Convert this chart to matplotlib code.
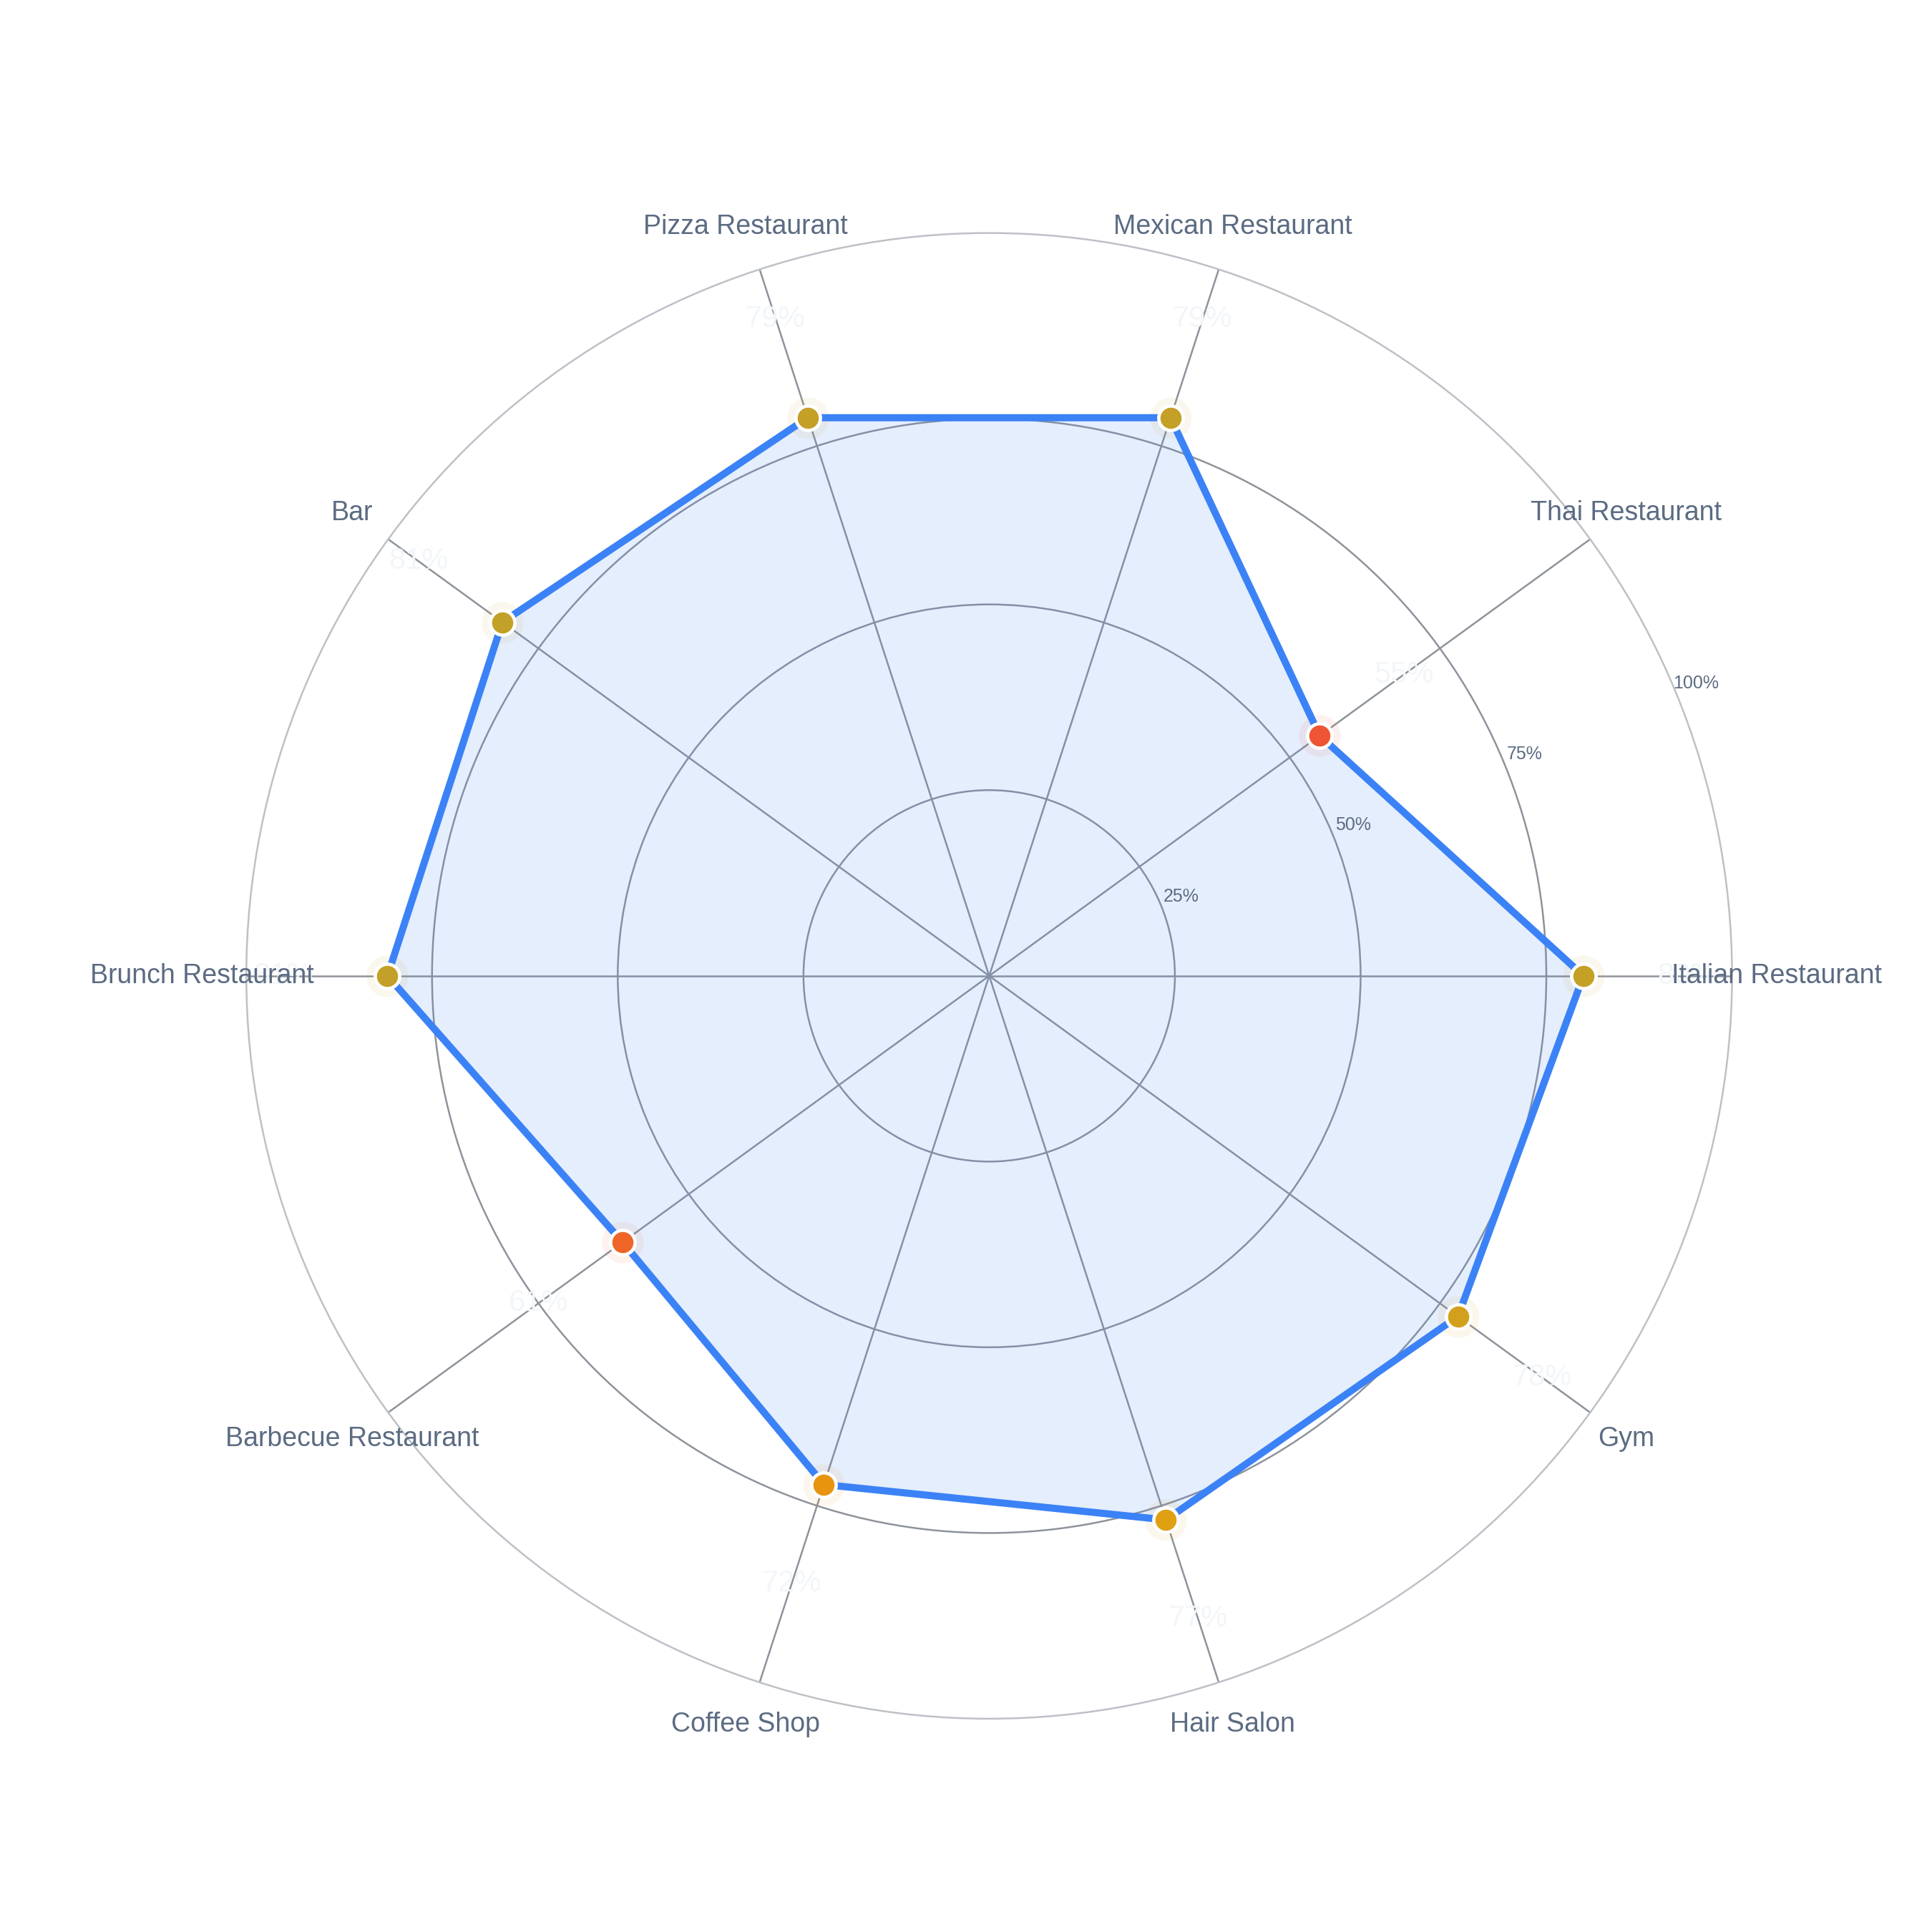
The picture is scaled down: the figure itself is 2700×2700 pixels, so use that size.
import numpy as np
import matplotlib
matplotlib.use("Agg")
import matplotlib.pyplot as plt
from matplotlib.colors import LinearSegmentedColormap

plt.rcParams["font.family"] = ["Liberation Sans", "DejaVu Sans"]

# ---- data ----
categories = ["Italian Restaurant", "Thai Restaurant", "Mexican Restaurant",
              "Pizza Restaurant", "Bar", "Brunch Restaurant",
              "Barbecue Restaurant", "Coffee Shop", "Hair Salon", "Gym"]
values = [80, 55, 79, 79, 81, 81, 61, 72, 77, 78]
rticks = [25, 50, 75, 100]
rtick_labels = ["25%", "50%", "75%", "100%"]

# ---- look ----
LINE_BLUE = "#3B82F6"
TEXT_COL = "#5B6B82"
GRID_COL = "#8E939B"
OUTER_COL = "#BDC1C7"
VALUE_COL = "#F3F6F9"

# marker colour by value (red -> amber -> gold)
_val_nodes = [50, 55, 65, 72, 77, 79, 85]
_col_nodes = ["#EF4C3A", "#EE5533", "#F0701F", "#E8940F", "#E0A012", "#C4A027", "#C2A028"]
_lo, _hi = _val_nodes[0], _val_nodes[-1]
cmap = LinearSegmentedColormap.from_list(
    "score", [((v - _lo) / (_hi - _lo), c) for v, c in zip(_val_nodes, _col_nodes)])


def score_color(v):
    return cmap((v - _lo) / (_hi - _lo))


n = len(categories)
theta = np.arange(n) * 2 * np.pi / n
theta_closed = np.append(theta, theta[0])
vals_closed = np.append(values, values[0])

fig = plt.figure(figsize=(9, 9), dpi=300)
fig.patch.set_facecolor("white")
ax = fig.add_axes([0.1275, 0.1104, 0.769, 0.769], projection="polar")
ax.set_theta_zero_location("E")
ax.set_theta_direction(1)
ax.set_ylim(0, 100)

# grid
ax.set_xticks(theta)
ax.set_xticklabels([])
ax.set_yticks(rticks[:-1])
ax.set_yticklabels([])
ax.xaxis.grid(True, color=GRID_COL, linewidth=0.6)
ax.yaxis.grid(True, color=GRID_COL, linewidth=0.6)
ax.spines["polar"].set_color(OUTER_COL)
ax.spines["polar"].set_linewidth(0.6)
ax.tick_params(length=0)

# radial tick labels
rlab_ang = np.deg2rad(22.5)
for r, lab in zip(rticks, rtick_labels):
    ax.text(rlab_ang, r + 3, lab, ha="center", va="center",
            fontsize=6, color=TEXT_COL, zorder=6)

# series
ax.fill(theta_closed, vals_closed, color=LINE_BLUE, alpha=0.13, linewidth=0, zorder=2)
ax.plot(theta_closed, vals_closed, color=LINE_BLUE, linewidth=2.4, zorder=4,
        solid_joinstyle="miter")

for t, v in zip(theta, values):
    c = score_color(v)
    ax.plot([t], [v], marker="o", markersize=14, color=c, alpha=0.08,
            markeredgewidth=0, linestyle="none", zorder=3)
    ax.plot([t], [v], marker="o", markersize=8.2, markerfacecolor=c,
            markeredgecolor="white", markeredgewidth=1.1, linestyle="none",
            zorder=5)
    ax.text(t, v + 14, f"{v}%", ha="center", va="center", fontsize=10,
            color=VALUE_COL, zorder=6)

# category labels
for t, name in zip(theta, categories):
    ax.text(t, 106, name, ha="center", va="center", fontsize=9,
            color=TEXT_COL, zorder=6)

fig.savefig("out.png", dpi=300, facecolor="white")
